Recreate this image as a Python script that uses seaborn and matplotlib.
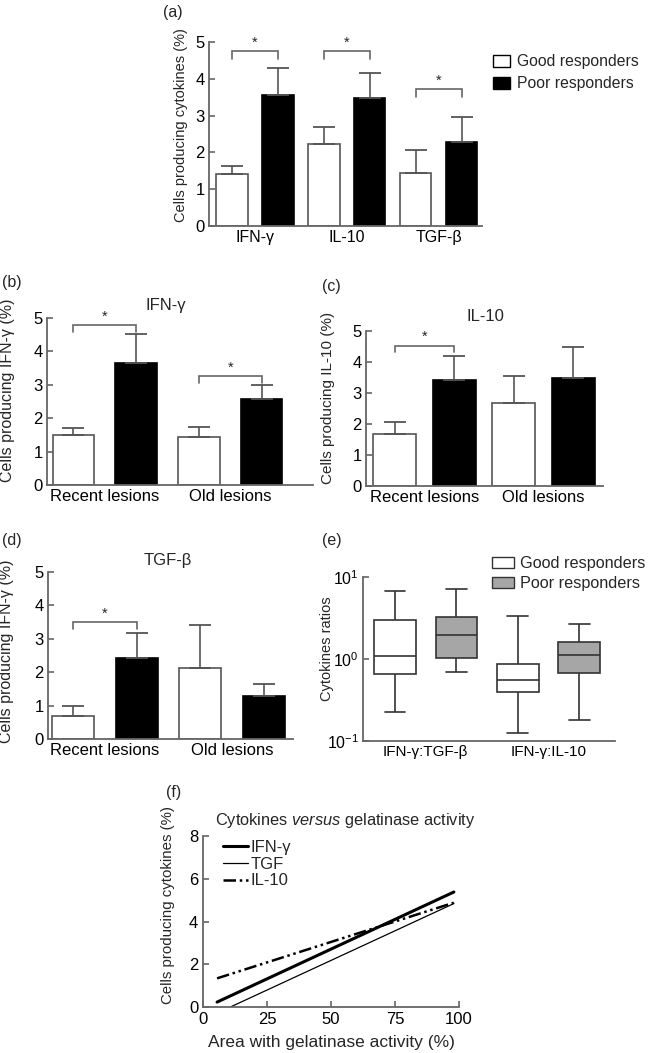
import numpy as np
import pandas as pd
import matplotlib
matplotlib.use('Agg')
import matplotlib.pyplot as plt
import seaborn as sns
from matplotlib.patches import Patch
from matplotlib.lines import Line2D
from matplotlib.ticker import FixedLocator, NullLocator, LogFormatterSciNotation

sns.set_theme(style='ticks')
plt.rcParams['font.family'] = ['Liberation Sans', 'DejaVu Sans']
plt.rcParams['mathtext.fontset'] = 'custom'
plt.rcParams['mathtext.rm'] = 'Liberation Sans'
plt.rcParams['mathtext.it'] = 'Liberation Sans:italic'

groups = ['Good responders', 'Poor responders']

# ---- (a) all lesions
a_cats = ['IFN-γ', 'IL-10', 'TGF-β']
a_good = [1.40, 2.23, 1.43]
a_good_sem = [0.23, 0.45, 0.64]
a_poor = [3.55, 3.47, 2.27]
a_poor_sem = [0.73, 0.70, 0.70]
a_sig = [4.75, 4.75, 3.71]

# ---- (b)-(d) by lesion age
lesion_cats = ['Recent lesions', 'Old lesions']
b_good = [1.50, 1.45]
b_good_sem = [0.20, 0.30]
b_poor = [3.65, 2.58]
b_poor_sem = [0.88, 0.40]
b_sig = [4.78, 3.25]

c_good = [1.68, 2.68]
c_good_sem = [0.37, 0.87]
c_poor = [3.42, 3.47]
c_poor_sem = [0.78, 1.03]
c_sig = [4.53, None]

d_good = [0.70, 2.12]
d_good_sem = [0.30, 1.28]
d_poor = [2.42, 1.28]
d_poor_sem = [0.75, 0.37]
d_sig = [3.49, None]

# ---- (e) ratios: min, Q1, median, Q3, max
e_cats = ['IFN-γ:TGF-β', 'IFN-γ:IL-10']
e_good_tgf = [0.223, 0.66, 1.10, 2.97, 6.76]
e_poor_tgf = [0.70, 1.04, 1.95, 3.26, 7.20]
e_good_il10 = [0.126, 0.40, 0.55, 0.87, 3.39]
e_poor_il10 = [0.18, 0.67, 1.12, 1.59, 2.65]

# ---- (f) regression lines
f_ifn_x = [5.5, 98]
f_ifn_y = [0.23, 5.38]
f_tgf_x = [10.7, 98]
f_tgf_y = [0.0, 4.84]
f_il10_x = [5.5, 98]
f_il10_y = [1.34, 4.88]

W, H = 650, 1053
fig = plt.figure(figsize=(W / 100, H / 100), dpi=100)


def add_ax(x0, x1, y0, y1):
    return fig.add_axes([x0 / W, 1 - y1 / H, (x1 - x0) / W, (y1 - y0) / H])


SP = '#666666'


def style(ax, xlab=12, ylab=12):
    sns.despine(ax=ax)
    for s in ['left', 'bottom']:
        ax.spines[s].set_color(SP)
        ax.spines[s].set_linewidth(1.3)
    ax.tick_params(axis='y', direction='in', length=4, width=1.2, color=SP,
                   labelsize=ylab, pad=3, labelcolor='black')
    ax.tick_params(axis='x', length=0, labelsize=xlab, pad=3, labelcolor='black')


def bar_panel(ax, cats, good, good_sem, poor, poor_sem, sig, xlim, gap, xlab, ylab):
    df = pd.DataFrame({
        'cat': cats * 2,
        'group': [groups[0]] * len(cats) + [groups[1]] * len(cats),
        'value': good + poor,
    })
    sns.barplot(data=df, x='cat', y='value', hue='group', hue_order=groups, order=cats,
                palette={groups[0]: 'white', groups[1]: 'black'}, width=1.0, gap=gap,
                errorbar=None, saturation=1, legend=False, ax=ax)
    for cont, sem, ec in zip(ax.containers, [good_sem, poor_sem], ['#555555', 'black']):
        for p, s in zip(cont.patches, sem):
            p.set_edgecolor(ec)
            p.set_linewidth(1.2)
            x = p.get_x() + p.get_width() / 2
            ax.errorbar([x], [p.get_height()], yerr=[[0], [s]], fmt='none',
                        ecolor='#555555', elinewidth=1.2, capsize=8, capthick=1.3, zorder=3)
    for i, s in enumerate(sig):
        if s is None:
            continue
        p0 = ax.containers[0].patches[i]
        p1 = ax.containers[1].patches[i]
        x0 = p0.get_x() + p0.get_width() / 2
        x1 = p1.get_x() + p1.get_width() / 2
        ax.plot([x0, x0, x1, x1], [s - 0.2, s, s, s - 0.2], color=SP, lw=1.2,
                solid_joinstyle='miter', clip_on=False)
        ax.text((x0 + x1) / 2, s + 0.05, '*', ha='center', va='bottom', fontsize=10.5)
    ax.set_xlim(*xlim)
    ax.set_ylim(0, 5)
    ax.set_yticks([0, 1, 2, 3, 4, 5])
    ax.set_xlabel('')
    style(ax, xlab, ylab)


# (a)
ax_a = add_ax(209, 482, 42, 226)
bar_panel(ax_a, a_cats, a_good, a_good_sem, a_poor, a_poor_sem, a_sig,
          (-0.5, 2.47), 0.32, 11.5, 12)
ax_a.set_ylabel('Cells producing cytokines (%)', fontsize=10.5)
ax_a.yaxis.set_label_coords(-0.077, 0.55)
fig.legend(handles=[Patch(facecolor='white', edgecolor='black', lw=1.0),
                    Patch(facecolor='black', edgecolor='black', lw=1.0)],
           labels=groups, loc='upper left', bbox_to_anchor=(493 / W, 1 - 54 / H),
           frameon=False, fontsize=11.3, handlelength=1.1, handleheight=0.8,
           handletextpad=0.4, labelspacing=0.45, borderpad=0, borderaxespad=0)

# (b)
ax_b = add_ax(47, 313, 318, 485)
bar_panel(ax_b, lesion_cats, b_good, b_good_sem, b_poor, b_poor_sem, b_sig,
          (-0.46, 1.66), 0.34, 12, 12)
ax_b.set_ylabel('Cells producing IFN-γ (%)', fontsize=11.5)
ax_b.yaxis.set_label_coords(-0.120, 0.565)

# (c)
ax_c = add_ax(366, 603, 331, 486)
bar_panel(ax_c, lesion_cats, c_good, c_good_sem, c_poor, c_poor_sem, c_sig,
          (-0.49, 1.50), 0.28, 12, 12)
ax_c.set_ylabel('Cells producing IL-10 (%)', fontsize=11)
ax_c.yaxis.set_label_coords(-0.131, 0.565)

# (d)
ax_d = add_ax(48, 293, 572, 739)
bar_panel(ax_d, lesion_cats, d_good, d_good_sem, d_poor, d_poor_sem, d_sig,
          (-0.45, 1.48), 0.34, 12, 12)
ax_d.set_ylabel('Cells producing IFN-γ (%)', fontsize=11.5)
ax_d.yaxis.set_label_coords(-0.139, 0.527)

# (e)
ax_e = add_ax(363, 615, 577, 741)
df_e = pd.DataFrame({
    'ratio': [e_cats[0]] * 10 + [e_cats[1]] * 10,
    'group': ([groups[0]] * 5 + [groups[1]] * 5) * 2,
    'value': e_good_tgf + e_poor_tgf + e_good_il10 + e_poor_il10,
})
sns.boxplot(data=df_e, x='ratio', y='value', hue='group', hue_order=groups, order=e_cats,
            palette={groups[0]: 'white', groups[1]: '#a6a6a6'}, whis=(0, 100),
            width=1.0, gap=0.32, log_scale=True, linecolor='#333333', linewidth=1.2,
            saturation=1, showfliers=False, legend=False, ax=ax_e)
ax_e.set_xlim(-0.51, 1.54)
ax_e.set_ylim(0.1, 10)
ax_e.yaxis.set_major_locator(FixedLocator([0.1, 1, 10]))
ax_e.yaxis.set_major_formatter(LogFormatterSciNotation())
ax_e.yaxis.set_minor_locator(NullLocator())
ax_e.set_xlabel('')
ax_e.set_ylabel('Cytokines ratios', fontsize=10.5)
ax_e.yaxis.set_label_coords(-0.115, 0.56)
style(ax_e, 11, 11.5)
fig.legend(handles=[Patch(facecolor='white', edgecolor='#333333', lw=1.0),
                    Patch(facecolor='#a6a6a6', edgecolor='#333333', lw=1.0)],
           labels=groups, loc='upper left', bbox_to_anchor=(492 / W, 1 - 556 / H),
           frameon=False, fontsize=11.7, handlelength=1.35, handleheight=0.7,
           handletextpad=0.4, labelspacing=0.3, borderpad=0, borderaxespad=0)

# (f)
ax_f = add_ax(203, 459, 836, 1007)
sns.lineplot(x=f_ifn_x, y=f_ifn_y, color='black', lw=2.2, ax=ax_f)
sns.lineplot(x=f_tgf_x, y=f_tgf_y, color='black', lw=0.9, ax=ax_f)
sns.lineplot(x=f_il10_x, y=f_il10_y, color='black', lw=1.8,
             linestyle=(0, (5, 1.5, 1, 1.5, 1, 1.5)), ax=ax_f)
ax_f.set_xlim(0, 100)
ax_f.set_ylim(0, 8)
ax_f.set_xticks([0, 25, 50, 75, 100])
ax_f.set_yticks([0, 2, 4, 6, 8])
sns.despine(ax=ax_f)
for s in ['left', 'bottom']:
    ax_f.spines[s].set_color(SP)
    ax_f.spines[s].set_linewidth(1.3)
ax_f.tick_params(direction='in', length=4, width=1.2, color=SP, labelsize=12,
                 labelcolor='black')
ax_f.set_xlabel('Area with gelatinase activity (%)', fontsize=12.5, labelpad=6)
ax_f.set_ylabel('Cells producing cytokines (%)', fontsize=10.8)
ax_f.yaxis.set_label_coords(-0.109, 0.596)
ax_f.legend(handles=[Line2D([], [], color='black', lw=2.2),
                     Line2D([], [], color='black', lw=0.9),
                     Line2D([], [], color='black', lw=1.8,
                            linestyle=(0, (5, 1.5, 1, 1.5, 1, 1.5)))],
            labels=['IFN-γ', 'TGF', 'IL-10'], loc='upper left',
            bbox_to_anchor=(20 / 256, 1 - 4 / 171), frameon=False, fontsize=12,
            handlelength=1.5, handletextpad=0.15, labelspacing=0.1,
            borderpad=0, borderaxespad=0)

# titles
fig.text(345 / W, 1 - 820 / H, r'Cytokines $\it{versus}$ gelatinase activity',
         ha='center', va='center', fontsize=11.8)
fig.text(166 / W, 1 - 305 / H, 'IFN-γ', ha='center', va='center', fontsize=12)
fig.text(485 / W, 1 - 316 / H, 'IL-10', ha='center', va='center', fontsize=12)
fig.text(168 / W, 1 - 560 / H, 'TGF-β', ha='center', va='center', fontsize=12)

# panel letters
for lab, x, y in [('(a)', 163, 12), ('(b)', 2, 283), ('(c)', 322, 287),
                  ('(d)', 2, 541), ('(e)', 322, 541), ('(f)', 166, 793)]:
    fig.text(x / W, 1 - y / H, lab, ha='left', va='center', fontsize=11.5)

fig.savefig('out.png', dpi=100)
